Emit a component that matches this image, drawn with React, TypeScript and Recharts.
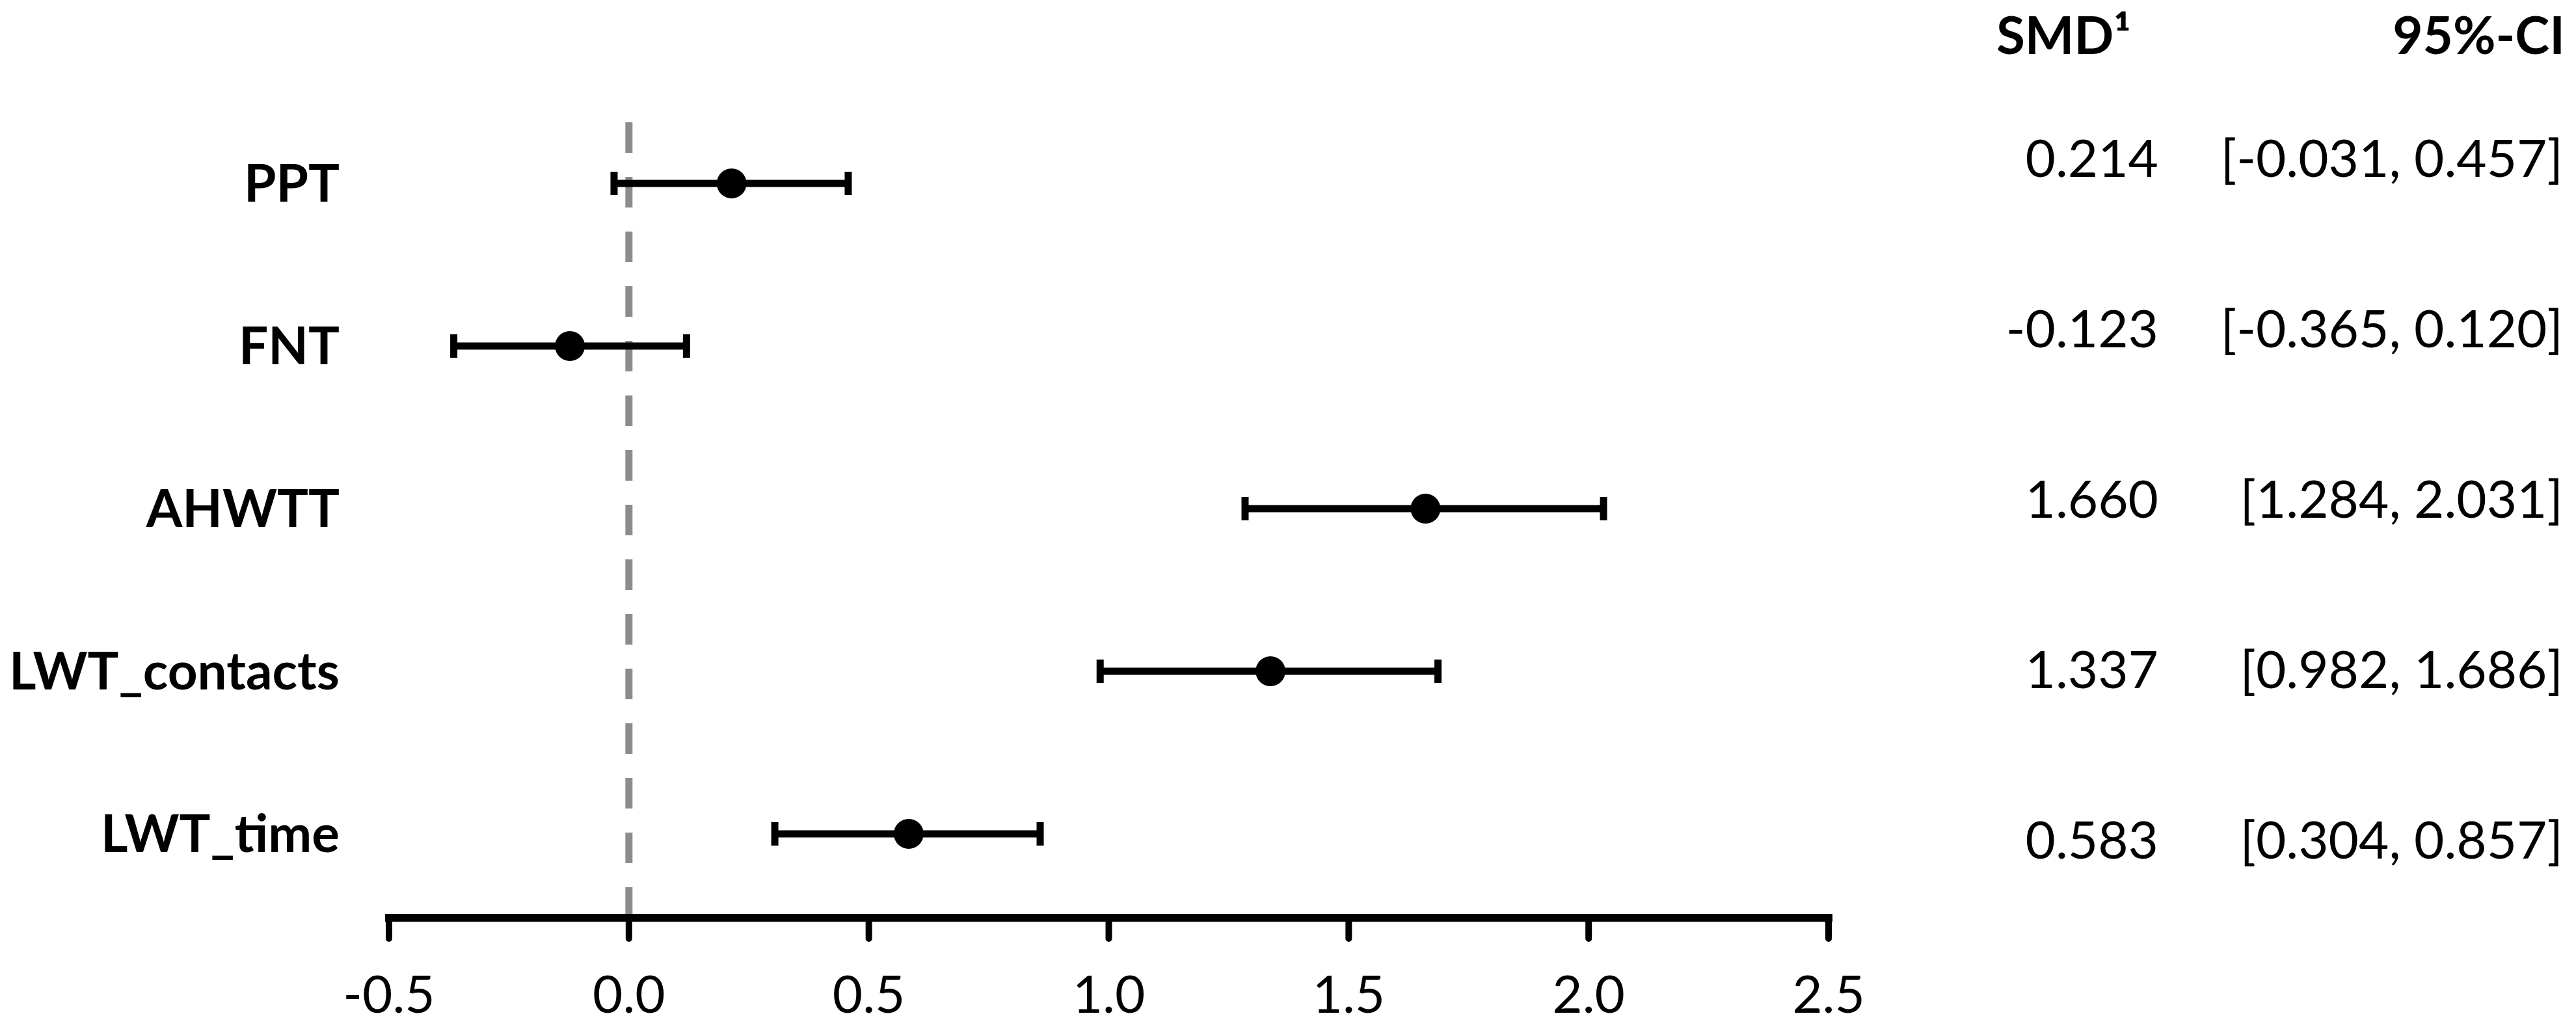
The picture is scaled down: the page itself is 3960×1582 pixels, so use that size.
import React from 'react';
import { ScatterChart, Scatter, XAxis, YAxis, ErrorBar, ReferenceLine } from 'recharts';

// ---- data ----
const outcomes = ['PPT', 'FNT', 'AHWTT', 'LWT_contacts', 'LWT_time'];
const smd = [0.214, -0.123, 1.66, 1.337, 0.583];
const ciLow = [-0.031, -0.365, 1.284, 0.982, 0.304];
const ciHigh = [0.457, 0.12, 2.031, 1.686, 0.857];
const xTicks = [-0.5, 0, 0.5, 1, 1.5, 2, 2.5];
const headers = ['SMD\u00B9', '95%-CI'];

const n = outcomes.length;
const rowTicks = outcomes.map((_, i) => n - i);
const data = outcomes.map((name, i) => ({
  name,
  y: n - i,
  smd: smd[i],
  err: [smd[i] - ciLow[i], ciHigh[i] - smd[i]],
}));

// ---- layout ----
const W = 3960;
const H = 1582;
const FONT = 'Lato, "Open Sans", sans-serif';
const FS = 80;

const fmt3 = (v: number) => v.toFixed(3);

const LabelTick = (props: any) => {
  const { x, y, payload } = props;
  const i = Math.round(n - payload.value);
  return (
    <text x={x} y={y} dy={FS * 0.355} textAnchor="end" fontFamily={FONT} fontSize={FS} fontWeight={700} fill="#000">
      {outcomes[i]}
    </text>
  );
};

const TableTick = (props: any) => {
  const { x, y, payload } = props;
  const i = Math.round(n - payload.value);
  if (i < 0 || i >= n) return null;
  return (
    <g>
      <text x={x + 507} y={y} textAnchor="end" fontFamily={FONT} fontSize={FS} fill="#000">
        {fmt3(smd[i])}
      </text>
      <text x={x + 1129} y={y} textAnchor="end" fontFamily={FONT} fontSize={FS} fill="#000">
        {`[${fmt3(ciLow[i])}, ${fmt3(ciHigh[i])}]`}
      </text>
    </g>
  );
};

const Dot = (props: any) => {
  const { cx, cy } = props;
  if (cx == null || cy == null) return null;
  return <circle cx={cx} cy={cy} r={23} fill="#000" />;
};

export default function App() {
  return (
    <div style={{ position: 'absolute', left: 0, top: 0, width: W, height: H, background: '#fff' }}>
      <ScatterChart width={W} height={H} margin={{ top: 185, right: 0, bottom: 0, left: 0 }}>
        <XAxis
          type="number"
          dataKey="smd"
          domain={[-0.5, 2.5]}
          ticks={xTicks}
          allowDataOverflow
          height={171}
          tickFormatter={(v: number) => v.toFixed(1)}
          axisLine={{ stroke: '#000', strokeWidth: 12, strokeLinecap: 'square' }}
          tickLine={{ stroke: '#000', strokeWidth: 10, strokeLinecap: 'round' }}
          tickSize={32}
          tickMargin={57}
          tick={{ fill: '#000', fontSize: FS, fontFamily: FONT }}
        />
        <YAxis
          yAxisId="left"
          type="number"
          dataKey="y"
          domain={[0.484, 5.388]}
          ticks={rowTicks}
          allowDataOverflow
          width={598}
          axisLine={false}
          tickLine={false}
          tickSize={0}
          tickMargin={76}
          tick={<LabelTick />}
        />
        <YAxis
          yAxisId="right"
          orientation="right"
          type="number"
          domain={[0.653, 5.332]}
          ticks={rowTicks}
          allowDataOverflow
          width={1149}
          axisLine={false}
          tickLine={false}
          tickSize={0}
          tickMargin={0}
          tick={<TableTick />}
        />
        <ReferenceLine
          yAxisId="left"
          segment={[{ x: 0, y: 0.484 }, { x: 0, y: 5.388 }]}
          stroke="#8c8c8c"
          strokeWidth={11}
          strokeDasharray="47 37"
        />
        <Scatter yAxisId="left" data={data} dataKey="y" shape={<Dot />} isAnimationActive={false}>
          <ErrorBar dataKey="err" direction="x" width={18} strokeWidth={11} stroke="#000" isAnimationActive={false} />
        </Scatter>
      </ScatterChart>
      <svg
        width={W}
        height={H}
        style={{ position: 'absolute', left: 0, top: 0, pointerEvents: 'none' }}
      >
        <text x={3276} y={83} textAnchor="end" fontFamily={FONT} fontSize={FS} fontWeight={700} fill="#000">
          {headers[0]}
        </text>
        <text x={3943} y={83} textAnchor="end" fontFamily={FONT} fontSize={FS} fontWeight={700} fill="#000">
          {headers[1]}
        </text>
      </svg>
    </div>
  );
}
